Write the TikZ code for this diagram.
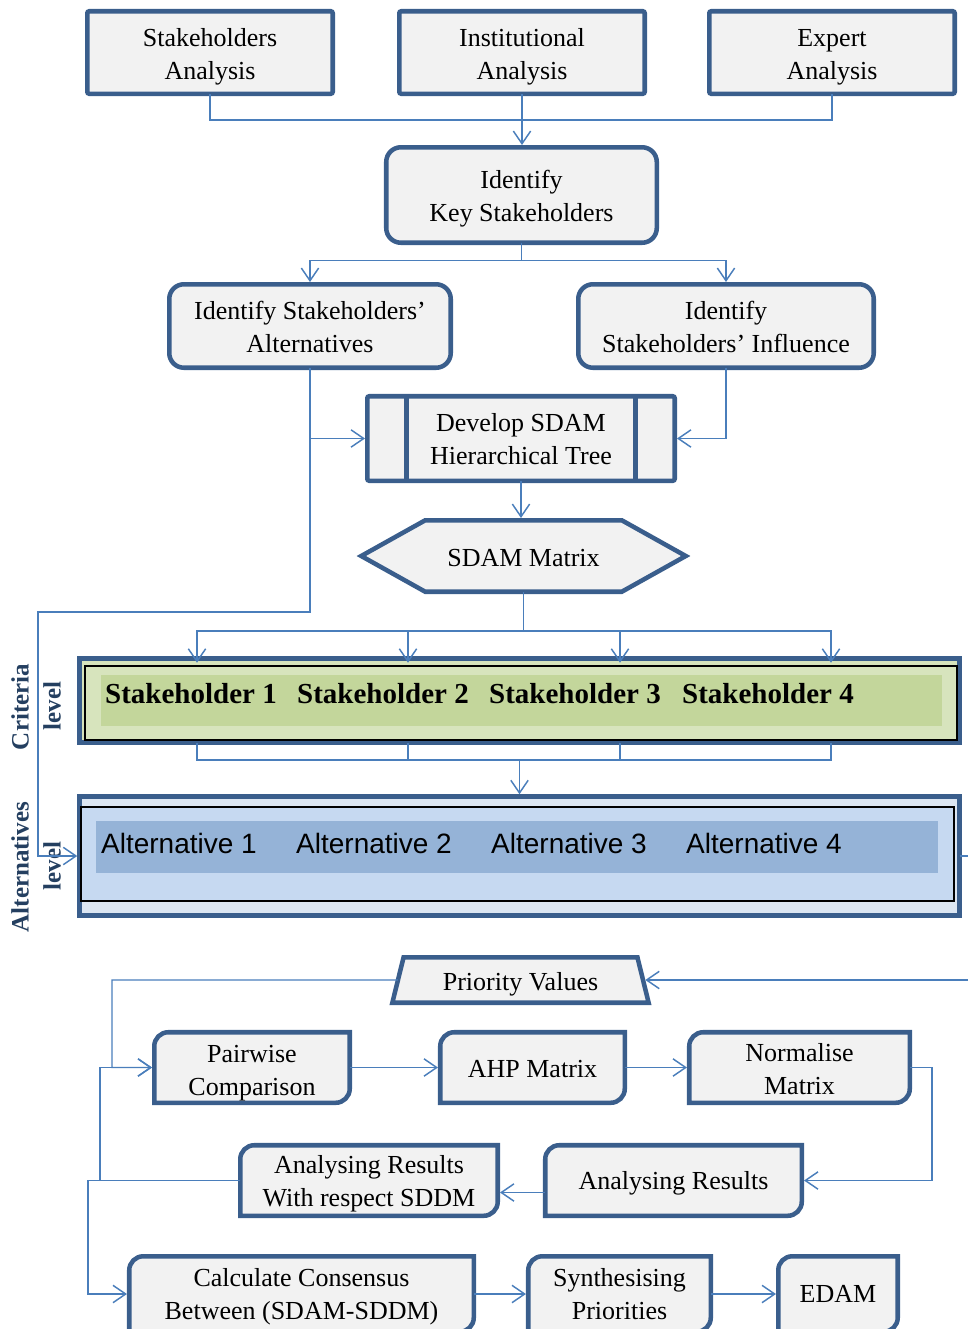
\documentclass[tikz,border=0pt]{standalone}
\usepackage{fontspec}
\setmainfont{Liberation Serif}
\newfontfamily\labelsans{Liberation Sans}
\usetikzlibrary{arrows.meta,calc,shapes.geometric}

\definecolor{edge}{HTML}{3A5E8C}
\definecolor{wire}{HTML}{4A7EBB}
\definecolor{boxfill}{HTML}{F2F2F2}
\definecolor{critfill}{HTML}{D7E4BD}
\definecolor{critband}{HTML}{C3D69B}
\definecolor{altfill}{HTML}{DCE6F2}
\definecolor{altinner}{HTML}{C6D9F1}
\definecolor{altband}{HTML}{95B3D7}
\definecolor{navy}{HTML}{243F60}

\pgfdeclarelayer{bg}
\pgfsetlayers{bg,main}

% outline with rounded top-left and bottom-right corners, drawn behind the node text
\newcommand{\rdiag}[1]{%
  \begin{pgfonlayer}{bg}
    \filldraw[diagbox] ($(#1.north west)+(14,0)$) -- (#1.north east)
      -- ($(#1.south east)+(0,14)$) arc[start angle=0,end angle=-90,radius=10.5pt]
      -- (#1.south west)
      -- ($(#1.north west)+(0,-14)$) arc[start angle=180,end angle=90,radius=10.5pt]
      -- cycle;
  \end{pgfonlayer}}

\begin{document}
\begin{tikzpicture}[x=0.75pt,y=0.75pt,
  font=\fontsize{19.5pt}{24.75pt}\selectfont,
  box/.style={draw=edge,fill=boxfill,line width=3.4pt,align=center,inner sep=0pt,outer sep=0pt},
  rbox/.style={box,rounded corners=11pt},
  sbox/.style={box,rounded corners=1.5pt},
  diag/.style={align=center,inner sep=0pt,outer sep=0pt},
  % strut that sets the text a little lower in its box
  lower/.style={execute at begin node={\rule{0pt}{#1}}},
  diagbox/.style={draw=edge,fill=boxfill,line width=3.4pt},
  link/.style={draw=wire,line width=1.1pt},
  arr/.style={link,-{Straight Barb[length=9.5pt,width=13pt]},shorten >=1.7pt},
  sidelabel/.style={rotate=90,text=navy,font=\bfseries\fontsize{18.75pt}{20pt}\selectfont},
  crittext/.style={font=\bfseries\fontsize{21.75pt}{24pt}\selectfont},
  alttext/.style={font=\labelsans\fontsize{21pt}{24pt}\selectfont},
]
\useasboundingbox (0,0) rectangle (968,-1329);
\clip (0,0) rectangle (968,-1329);

% ---- analysis inputs ----
\node[sbox,lower=44pt,minimum width=184.1pt,minimum height=61.9pt] (sa) at (210,-52.5) {Stakeholders\\Analysis};
\node[sbox,lower=44pt,minimum width=184.1pt,minimum height=61.9pt] (ia) at (522,-52.5) {Institutional\\Analysis};
\node[sbox,lower=44pt,minimum width=184.1pt,minimum height=61.9pt] (ea) at (832,-52.5) {Expert\\Analysis};

\node[rbox,lower=44pt,minimum width=202.9pt,minimum height=71.6pt] (key) at (521.5,-195) {Identify\\Key Stakeholders};
\node[rbox,lower=39.5pt,minimum width=211.1pt,minimum height=62.6pt] (alt) at (310,-326) {Identify Stakeholders'\\Alternatives};
\node[rbox,lower=39.5pt,minimum width=221.6pt,minimum height=62.6pt] (inf) at (726,-326) {Identify\\Stakeholders' Influence};

% predefined-process box
\node[sbox,lower=39.5pt,minimum width=230.6pt,minimum height=63.4pt] (dev) at (521,-438.5) {Develop SDAM\\Hierarchical Tree};
\draw[draw=edge,line width=3.4pt] ($(dev.north west)+(39,0)$) -- ($(dev.south west)+(39,0)$);
\draw[draw=edge,line width=3.4pt] ($(dev.north east)+(-39,0)$) -- ($(dev.south east)+(-39,0)$);

% hexagon
\node[diag,lower=15.5pt,minimum width=243.4pt,minimum height=53.6pt] (mat) at (523.5,-556) {SDAM Matrix};
\begin{pgfonlayer}{bg}
  \filldraw[diagbox] (mat.west) -- ($(mat.north west)+(64,0)$) -- ($(mat.north east)+(-64,0)$)
    -- (mat.east) -- ($(mat.south east)+(-64,0)$) -- ($(mat.south west)+(64,0)$) -- cycle;
\end{pgfonlayer}

% ---- criteria level ----
\node[draw=edge,fill=critfill,line width=3.75pt,inner sep=0pt,outer sep=0pt,minimum width=660pt,minimum height=63pt] (crit) at (519.5,-700.5) {};
\node[draw=black,fill=critfill,line width=1.2pt,inner sep=0pt,outer sep=0pt,minimum width=654pt,minimum height=55.5pt] (crin) at (521,-703) {};
\node[fill=critband,inner sep=0pt,minimum width=630.75pt,minimum height=38.25pt] (cband) at (521.5,-700.5) {};
\node[crittext] (s1) at (191,-694) {Stakeholder 1};
\node[crittext] (s2) at (383,-694) {Stakeholder 2};
\node[crittext] (s3) at (575,-694) {Stakeholder 3};
\node[crittext] (s4) at (768,-694) {Stakeholder 4};

% ---- alternatives level ----
\node[draw=edge,fill=altfill,line width=3.75pt,inner sep=0pt,outer sep=0pt,minimum width=660pt,minimum height=89.25pt] (altv) at (519.5,-856) {};
\node[draw=black,fill=altinner,line width=1.2pt,inner sep=0pt,outer sep=0pt,minimum width=654.75pt,minimum height=70.5pt] (altin) at (517.5,-854) {};
\node[fill=altband,inner sep=0pt,minimum width=631.5pt,minimum height=39pt] (aband) at (517,-847) {};
\node[alttext] (a1) at (179,-843) {Alternative 1};
\node[alttext] (a2) at (374,-843) {Alternative 2};
\node[alttext] (a3) at (569,-843) {Alternative 3};
\node[alttext] (a4) at (764,-843) {Alternative 4};

\node[sidelabel] (lc1) at (20,-707) {Criteria};
\node[sidelabel] (lc2) at (52,-706) {level};
\node[sidelabel] (la1) at (20,-867) {Alternatives};
\node[sidelabel] (la2) at (52,-866) {level};

% ---- AHP stage ----
\node[box,lower=20pt,trapezium,trapezium left angle=77,trapezium right angle=77,trapezium stretches=true,minimum width=192.4pt,minimum height=34.1pt] (pv) at (520.5,-980) {Priority Values};

\node[diag,lower=45.5pt,minimum width=146.6pt,minimum height=52.9pt] (pc) at (252,-1067.5) {Pairwise\\Comparison};
\node[diag,lower=15pt,minimum width=138.4pt,minimum height=52.9pt] (ahp) at (532.5,-1067.5) {AHP Matrix};
\node[diag,lower=41pt,minimum width=165.4pt,minimum height=52.9pt] (nm) at (799.5,-1067.5) {Normalise\\Matrix};
\node[diag,lower=42.5pt,minimum width=193.1pt,minimum height=52.9pt] (ars) at (369,-1180.5) {Analysing Results\\With respect SDDM};
\node[diag,lower=18pt,minimum width=192.4pt,minimum height=52.9pt] (ar) at (673.5,-1180.5) {Analysing Results};
\node[diag,lower=42.5pt,minimum width=258.4pt,minimum height=56.6pt] (cc) at (301.5,-1294) {Calculate Consensus\\Between (SDAM-SDDM)};
\node[diag,minimum width=136.9pt,minimum height=56.6pt] (sp) at (619.5,-1294) {Synthesising\\Priorities};
\node[diag,minimum width=89.6pt,minimum height=56.6pt] (edam) at (838,-1294) {EDAM};
\foreach \n in {pc,ahp,nm,ars,ar,cc,sp,edam} {\rdiag{\n}}

% ---- connectors ----
\coordinate (tj) at (521,-120);
\draw[link] (sa.south) |- (ea.south |- tj) -- (ea.south);
\draw[arr] (ia.south) -- (ia.south |- key.north);

\draw[link] (key.south) -- ++(0,-18) coordinate (kj);
\draw[arr] (kj) -| (alt.north);
\draw[arr] (kj) -| (inf.north);

\draw[arr] (alt.south) |- (dev.west);
\draw[arr] (inf.south) |- (dev.east);
\coordinate (lt) at (38,-612);
\draw[arr] (alt.south) |- (lt) |- (altv.west);

\draw[arr] (dev.south) -- (dev.south |- mat.north);

\coordinate (m1) at (523.5,-631);
\coordinate (t1) at (197,-665);
\coordinate (t2) at (408,-665);
\coordinate (t3) at (620,-665);
\coordinate (t4) at (831,-665);
\draw[link] (mat.south) -- (m1);
\foreach \t in {t1,t2,t3,t4} {\draw[arr] (m1) -| (\t);}

\coordinate (u1) at (197,-742.5);
\coordinate (u2) at (408,-742.5);
\coordinate (u3) at (620,-742.5);
\coordinate (u4) at (831,-742.5);
\coordinate (v) at (519.5,-760);
\foreach \u in {u1,u2,u3,u4} {\draw[link] (\u) |- (v);}
\draw[arr] (v) -- (altv.north);

\draw[arr] (altv.east) -- ++(15,0) |- (pv.east);

\coordinate (pl) at (112,-980);
\draw[arr] (pv.west) -- (pl) |- (pc.west);
\draw[arr] (pc.east) -- (ahp.west);
\draw[arr] (ahp.east) -- (nm.west);
\draw[arr] (nm.east) -- ++(22,0) |- (ar.east);
\draw[arr] ($(ar.west)+(0,-12)$) -- ($(ars.east)+(0,-12)$);
\coordinate (rl) at (100,-1180.5);
\coordinate (rd) at (88,-1180.5);
\draw[arr] (ars.west) -- (rl) |- (pc.west);
\draw[arr] (ars.west) -- (rd) |- (cc.west);
\draw[arr] (cc.east) -- (sp.west);
\draw[arr] (sp.east) -- (edam.west);
\end{tikzpicture}
\end{document}
